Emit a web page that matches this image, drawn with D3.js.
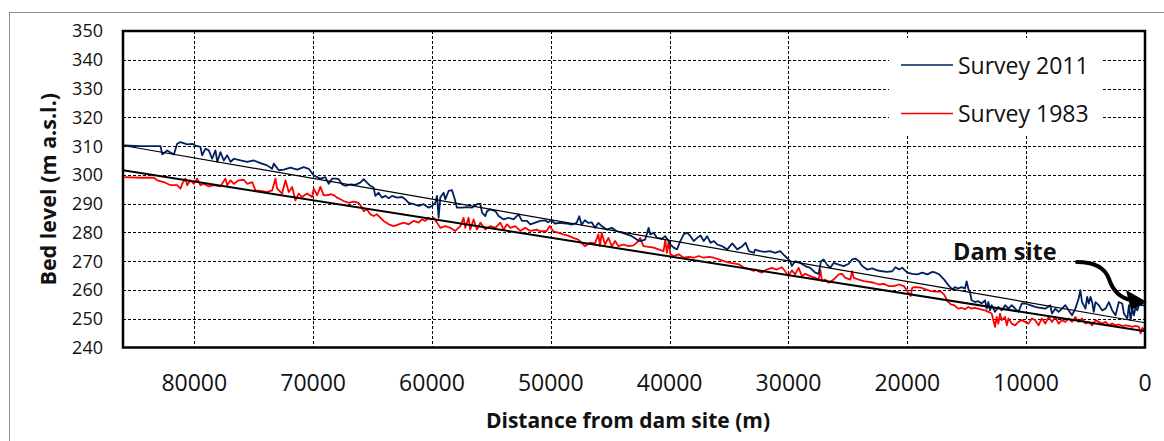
<!DOCTYPE html>
<html>
<head>
<meta charset="utf-8">
<script src="https://cdn.jsdelivr.net/npm/d3@7"></script>
<style>
  html, body { margin: 0; padding: 0; background: #fff; }
  svg { display: block; font-family: 'Open Sans', 'Noto Sans', sans-serif; }
</style>
</head>
<body>
<div id="chart"></div>
<script>
// distances in km from dam site, bed levels in m a.s.l.
const dist2011 = [85.9, 84.5, 82.84, 82.70, 82.28, 81.72, 81.44, 81.16, 80.60, 80.18, 79.90, 79.48, 79.34, 79.06, 78.78, 78.50, 78.22, 78.07, 77.80, 77.52, 77.23, 76.95, 76.67, 76.11, 75.55, 74.99, 74.43, 73.87, 73.45, 73.31, 72.89, 72.47, 71.91, 71.35, 70.79, 70.37, 69.95, 69.39, 68.97, 68.69, 68.40, 68.12, 67.85, 67.57, 67.29, 66.87, 66.45, 66.03, 65.75, 65.47, 65.19, 64.91, 64.77, 64.49, 64.21, 63.93, 63.64, 63.36, 62.94, 62.52, 62.24, 61.96, 61.54, 61.12, 60.70, 60.28, 60.00, 59.72, 59.58, 59.44, 59.30, 59.02, 58.88, 58.60, 58.32, 58.12, 57.90, 57.48, 57.06, 56.64, 56.22, 55.93, 55.79, 55.51, 55.37, 55.09, 54.67, 54.39, 53.97, 53.55, 53.13, 52.71, 52.43, 52.01, 51.73, 51.31, 50.89, 50.47, 50.23, 49.94, 49.66, 49.24, 48.68, 48.25, 47.83, 47.61, 47.41, 47.13, 46.85, 46.56, 46.28, 46.00, 45.72, 45.30, 44.87, 44.45, 44.03, 43.61, 43.18, 42.76, 42.48, 42.06, 41.77, 41.63, 41.35, 41.07, 40.65, 40.37, 40.08, 39.94, 39.66, 39.38, 39.10, 38.82, 38.54, 38.25, 37.97, 37.69, 37.41, 37.13, 36.85, 36.56, 36.28, 36.00, 35.58, 35.15, 34.73, 34.31, 33.89, 33.61, 33.32, 32.90, 32.82, 32.39, 31.97, 31.55, 31.13, 30.70, 30.42, 30.14, 29.86, 29.72, 29.44, 29.01, 28.59, 28.17, 27.75, 27.46, 27.27, 27.04, 26.76, 26.48, 26.20, 25.77, 25.35, 24.93, 24.65, 24.37, 24.08, 23.80, 23.38, 22.96, 22.54, 22.11, 21.69, 21.27, 20.99, 20.70, 20.42, 20.00, 19.58, 19.15, 18.73, 18.31, 17.89, 17.61, 17.32, 16.90, 16.48, 16.20, 16.00, 15.72, 15.44, 15.15, 15.01, 14.87, 14.73, 14.59, 14.31, 14.03, 13.75, 13.46, 13.32, 13.18, 13.04, 12.90, 12.62, 12.34, 12.06, 11.77, 11.49, 11.21, 10.93, 10.65, 10.37, 10.08, 9.66, 9.24, 8.82, 8.39, 7.97, 7.83, 7.55, 7.27, 6.99, 6.70, 6.42, 6.14, 5.86, 5.58, 5.44, 5.30, 5.01, 4.87, 4.73, 4.59, 4.45, 4.31, 4.17, 3.89, 3.61, 3.32, 3.04, 2.76, 2.48, 2.20, 1.92, 1.77, 1.49, 1.35, 1.21, 1.07, 0.93, 0.79, 0.65, 0.51, 0.23, 0.0]
const level2011 = [310.2, 310.0, 310.0, 307.1, 308.5, 307.1, 310.8, 311.4, 310.6, 310.8, 310.2, 309.7, 306.8, 309.1, 308.5, 305.6, 308.5, 304.5, 307.9, 305.0, 306.8, 304.5, 305.6, 305.0, 304.5, 305.0, 304.1, 303.3, 302.1, 303.9, 301.6, 301.8, 302.5, 301.8, 302.7, 302.1, 299.8, 298.7, 299.2, 296.9, 298.7, 298.7, 298.5, 296.7, 296.2, 296.7, 296.5, 297.3, 298.5, 297.3, 296.2, 295.6, 292.7, 293.8, 292.1, 292.7, 291.9, 292.7, 292.1, 292.3, 291.5, 290.3, 289.8, 289.2, 289.8, 288.6, 289.2, 290.3, 292.7, 285.1, 292.1, 293.8, 291.5, 294.4, 294.7, 292.1, 288.6, 288.6, 288.8, 288.6, 289.8, 290.0, 286.9, 285.7, 287.4, 288.0, 287.4, 285.7, 284.5, 285.1, 284.5, 286.3, 284.0, 284.0, 282.8, 283.4, 284.0, 284.2, 283.5, 284.2, 283.1, 283.3, 283.1, 282.7, 283.3, 285.6, 282.7, 284.2, 283.3, 283.5, 281.6, 283.3, 282.2, 281.0, 281.6, 280.4, 279.9, 279.3, 278.7, 277.5, 277.0, 277.5, 281.6, 279.3, 279.9, 278.1, 277.8, 278.7, 277.0, 275.8, 274.7, 274.1, 277.0, 279.3, 279.9, 278.7, 277.0, 278.1, 278.9, 277.0, 278.7, 276.4, 277.0, 275.8, 275.2, 274.1, 276.2, 274.1, 275.2, 276.4, 273.5, 272.9, 274.0, 273.5, 273.2, 273.5, 272.9, 273.5, 272.3, 271.2, 270.0, 268.3, 270.0, 269.4, 268.3, 267.7, 266.0, 265.6, 270.0, 270.6, 268.8, 267.7, 269.4, 268.8, 268.3, 269.1, 270.6, 270.9, 270.0, 268.3, 267.1, 267.5, 266.8, 266.5, 266.3, 266.5, 267.9, 267.1, 267.7, 266.0, 265.6, 265.4, 266.0, 265.4, 266.3, 266.0, 265.4, 263.6, 261.3, 260.2, 261.0, 260.5, 261.0, 260.5, 263.0, 260.5, 259.3, 256.4, 255.8, 256.1, 255.3, 256.4, 253.5, 255.8, 252.9, 254.7, 252.4, 254.1, 252.9, 254.7, 253.5, 254.7, 253.5, 252.4, 255.3, 255.3, 254.7, 254.1, 253.8, 253.5, 254.7, 251.8, 253.5, 252.4, 253.5, 254.7, 252.9, 251.2, 253.5, 257.0, 259.9, 255.8, 253.5, 257.6, 255.3, 257.6, 255.8, 252.4, 255.8, 254.7, 252.9, 253.5, 255.8, 252.9, 251.2, 255.8, 255.3, 251.8, 250.1, 254.7, 249.5, 253.5, 251.2, 254.1, 252.9, 254.7, 254.7, 254.5]

const dist1983 = [85.9, 84.5, 83.40, 83.12, 82.56, 82.00, 81.44, 81.16, 81.02, 80.74, 80.60, 80.32, 80.04, 79.76, 79.48, 79.20, 78.78, 78.36, 77.80, 77.38, 77.23, 76.95, 76.67, 76.26, 75.84, 75.55, 75.13, 74.85, 74.43, 73.87, 73.45, 73.17, 73.03, 72.61, 72.33, 72.05, 71.77, 71.49, 71.21, 70.93, 70.51, 70.09, 69.95, 69.66, 69.39, 69.11, 68.69, 68.55, 68.27, 67.99, 67.71, 67.43, 67.01, 66.59, 66.17, 65.89, 65.75, 65.47, 65.19, 64.91, 64.63, 64.35, 64.07, 63.64, 63.22, 62.80, 62.38, 61.96, 61.54, 61.12, 60.84, 60.56, 60.28, 60.14, 59.86, 59.58, 59.30, 58.88, 58.46, 58.04, 57.62, 57.34, 57.20, 56.92, 56.78, 56.50, 56.22, 55.93, 55.51, 55.09, 54.67, 54.25, 53.97, 53.69, 53.41, 52.99, 52.57, 52.15, 51.73, 51.17, 50.93, 50.37, 50.08, 49.80, 49.38, 48.96, 48.54, 48.11, 47.69, 47.41, 47.13, 46.71, 46.28, 46.00, 45.86, 45.72, 45.44, 45.15, 44.87, 44.59, 44.31, 43.89, 43.46, 43.04, 42.62, 42.48, 42.20, 41.77, 41.35, 40.93, 40.51, 40.37, 40.23, 40.08, 39.94, 39.66, 39.24, 38.82, 38.39, 37.97, 37.55, 37.13, 36.70, 36.28, 35.86, 35.44, 35.01, 34.59, 34.17, 33.75, 33.32, 32.90, 32.82, 32.54, 32.25, 31.83, 31.41, 30.99, 30.56, 30.28, 30.00, 29.72, 29.44, 29.15, 28.87, 28.59, 28.17, 27.75, 27.46, 27.32, 27.18, 26.90, 26.62, 26.20, 25.77, 25.49, 25.21, 24.79, 24.65, 24.51, 24.08, 23.66, 23.24, 22.82, 22.39, 21.97, 21.55, 21.13, 20.70, 20.28, 20.00, 19.72, 19.58, 19.30, 18.87, 18.45, 18.03, 17.61, 17.18, 16.90, 16.62, 16.34, 16.06, 15.72, 15.44, 15.15, 14.87, 14.59, 14.31, 13.89, 13.46, 13.18, 12.90, 12.76, 12.62, 12.48, 12.34, 12.20, 12.06, 11.77, 11.63, 11.49, 11.21, 10.93, 10.65, 10.37, 10.08, 9.80, 9.52, 9.24, 8.96, 8.68, 8.39, 8.11, 7.83, 7.55, 7.27, 6.99, 6.70, 6.42, 6.14, 5.86, 5.58, 5.30, 5.01, 4.73, 4.45, 4.17, 3.89, 3.61, 3.32, 3.04, 2.76, 2.48, 2.20, 1.92, 1.63, 1.35, 1.07, 0.79, 0.51, 0.37, 0.23, 0.0]
const level1983 = [299.2, 299.0, 299.0, 298.1, 297.5, 296.4, 296.4, 295.2, 296.9, 298.7, 296.4, 298.1, 296.9, 298.7, 296.4, 296.9, 296.0, 296.4, 296.0, 298.7, 296.4, 298.1, 296.9, 298.1, 298.3, 296.9, 297.5, 294.6, 294.4, 294.0, 294.6, 298.7, 295.2, 293.5, 298.1, 294.0, 295.8, 291.1, 293.5, 292.3, 293.5, 292.3, 295.2, 292.9, 295.8, 292.9, 293.0, 293.3, 293.0, 292.1, 291.5, 290.9, 290.3, 290.7, 290.3, 288.6, 287.4, 288.0, 286.3, 285.7, 286.3, 285.1, 284.0, 282.8, 282.2, 282.8, 283.4, 282.8, 284.0, 283.4, 284.5, 284.0, 285.1, 284.5, 285.1, 283.4, 281.6, 282.2, 281.6, 280.5, 282.2, 285.1, 281.6, 285.1, 281.0, 284.5, 281.0, 283.4, 281.0, 282.2, 281.6, 283.4, 281.0, 282.8, 281.6, 282.2, 280.5, 281.6, 280.5, 281.0, 280.4, 280.4, 282.2, 280.4, 279.9, 279.3, 278.9, 278.1, 277.5, 276.4, 275.2, 276.4, 276.2, 279.3, 275.2, 279.9, 275.8, 278.1, 275.2, 277.0, 275.2, 275.8, 275.2, 275.5, 277.0, 278.1, 275.2, 275.0, 274.7, 274.1, 273.5, 277.5, 272.9, 277.0, 272.4, 271.8, 272.4, 271.2, 271.5, 271.2, 271.8, 271.2, 271.5, 271.2, 270.6, 270.0, 269.5, 269.2, 268.9, 267.7, 267.2, 266.6, 267.1, 266.5, 266.0, 267.1, 267.7, 267.1, 267.9, 266.5, 264.8, 266.8, 265.4, 267.7, 264.8, 265.6, 264.8, 264.2, 263.6, 267.1, 263.1, 263.6, 262.5, 263.6, 265.4, 265.6, 264.2, 263.6, 266.5, 264.2, 263.6, 263.1, 262.8, 262.5, 261.9, 262.1, 261.3, 261.3, 261.9, 261.3, 259.6, 257.9, 260.8, 261.0, 260.8, 260.2, 259.6, 259.4, 259.4, 258.4, 256.1, 255.0, 254.7, 253.5, 253.8, 253.3, 254.1, 253.5, 253.8, 253.3, 252.9, 252.4, 251.8, 249.5, 247.2, 250.6, 248.3, 251.8, 249.5, 250.6, 247.7, 250.1, 248.3, 247.7, 248.9, 249.5, 248.9, 248.3, 250.1, 249.5, 247.7, 250.1, 248.3, 250.6, 248.9, 250.6, 248.3, 249.5, 248.9, 250.1, 248.9, 250.6, 248.9, 250.1, 248.3, 248.9, 247.7, 249.5, 248.9, 248.3, 248.9, 247.7, 248.3, 247.7, 248.0, 247.5, 247.7, 247.5, 247.2, 247.5, 247.2, 244.9, 246.8, 246.0]

// linear trend lines (end points at 86 km and at the dam)
const trendDist = [86.0, 0.0]
const trend2011 = [310.2, 248.6]
const trend1983 = [301.6, 245.6]

const yTicks = [240, 250, 260, 270, 280, 290, 300, 310, 320, 330, 340, 350]
const xTicks = [80000, 70000, 60000, 50000, 40000, 30000, 20000, 10000, 0]

const width = 1164, height = 441
const plotL = 123, plotR = 1145, plotT = 31, plotB = 347.5

const svg = d3.select('#chart').append('svg')
  .attr('width', width).attr('height', height)

// outer chart frame
svg.append('rect').attr('x', 9.5).attr('y', 12.5).attr('width', 1170).attr('height', 450)
  .attr('fill', '#fff').attr('stroke', '#8c8c8c').attr('stroke-width', 1)

const x = d3.scaleLinear().domain([86000, 0]).range([plotL, plotR])
const y = d3.scaleLinear().domain([240, 350]).range([plotB, plotT])

// grid
const grid = svg.append('g').attr('stroke', '#000').attr('stroke-width', 1).attr('stroke-dasharray', '3,2')
grid.selectAll('.hg').data(yTicks.slice(1, -1)).join('line')
  .attr('x1', plotL).attr('x2', plotR)
  .attr('y1', d => Math.round(y(d)) + 0.5).attr('y2', d => Math.round(y(d)) + 0.5)
grid.selectAll('.vg').data(xTicks.filter(d => d > 0)).join('line')
  .attr('y1', plotT).attr('y2', plotB)
  .attr('x1', d => Math.round(x(d)) + 0.5).attr('x2', d => Math.round(x(d)) + 0.5)

// legend box covers the grid
svg.append('rect').attr('x', 889).attr('y', 38).attr('width', 213).attr('height', 98).attr('fill', '#fff')

svg.append('clipPath').attr('id', 'plot').append('rect')
  .attr('x', plotL).attr('y', plotT).attr('width', plotR - plotL).attr('height', plotB - plotT)

const line = d3.line().x(d => x(d[0] * 1000)).y(d => y(d[1]))
const plot = svg.append('g').attr('clip-path', 'url(#plot)')

plot.append('path').datum(d3.zip(dist1983, level1983))
  .attr('d', line).attr('fill', 'none').attr('stroke', '#ff0000').attr('stroke-width', 1.8).attr('stroke-linejoin', 'round')
plot.append('path').datum(d3.zip(dist2011, level2011))
  .attr('d', line).attr('fill', 'none').attr('stroke', '#002060').attr('stroke-width', 1.8).attr('stroke-linejoin', 'round')

plot.append('path').datum(d3.zip(trendDist, trend2011))
  .attr('d', line).attr('fill', 'none').attr('stroke', '#000').attr('stroke-width', 1.2)
plot.append('path').datum(d3.zip(trendDist, trend1983))
  .attr('d', line).attr('fill', 'none').attr('stroke', '#000').attr('stroke-width', 2)

// plot frame
svg.append('rect').attr('x', plotL).attr('y', plotT).attr('width', plotR - plotL).attr('height', plotB - plotT)
  .attr('fill', 'none').attr('stroke', '#000').attr('stroke-width', 2.5)

// tick labels
svg.append('g').selectAll('text').data(yTicks).join('text')
  .attr('x', 103).attr('y', d => y(d)).attr('dy', '0.36em')
  .attr('text-anchor', 'end').style('font-size', '18px').attr('fill', '#111')
  .text(d => d)
svg.append('g').selectAll('text').data(xTicks).join('text')
  .attr('x', d => x(d)).attr('y', 391)
  .attr('text-anchor', 'middle').style('font-size', '23px').attr('fill', '#111')
  .text(d => d)

// axis titles
svg.append('text').attr('transform', `translate(56,${(plotT + plotB) / 2}) rotate(-90)`)
  .attr('text-anchor', 'middle').style('font-size', '21.5px').style('font-weight', 'bold').attr('fill', '#111')
  .text('Bed level (m a.s.l.)')
svg.append('text').attr('x', (plotL + plotR) / 2 - 6).attr('y', 428)
  .attr('text-anchor', 'middle').style('font-size', '21px').style('font-weight', 'bold').attr('fill', '#111')
  .text('Distance from dam site (m)')

// legend
const legendItems = [
  { label: 'Survey 2011', color: '#002060', y: 65 },
  { label: 'Survey 1983', color: '#ff0000', y: 113.5 }
]
const lg = svg.append('g').selectAll('g').data(legendItems).join('g')
lg.append('line').attr('x1', 901).attr('x2', 953).attr('y1', d => d.y).attr('y2', d => d.y)
  .attr('stroke', d => d.color).attr('stroke-width', 1.6)
lg.append('text').attr('x', 958).attr('y', d => d.y + 8.5)
  .style('font-size', '23px').attr('fill', '#111').text(d => d.label)

// dam site annotation
svg.append('text').attr('x', 953).attr('y', 260)
  .style('font-size', '23.5px').style('font-weight', 'bold').attr('fill', '#111').text('Dam site')
svg.append('path')
  .attr('d', 'M1077,262 Q1103,262 1109,279 Q1115,297 1131,300')
  .attr('fill', 'none').attr('stroke', '#000').attr('stroke-width', 4).attr('stroke-linecap', 'round')
svg.append('path').attr('d', 'M1126,290 L1131,310 L1147,302 Z').attr('fill', '#000')
</script>
</body>
</html>
